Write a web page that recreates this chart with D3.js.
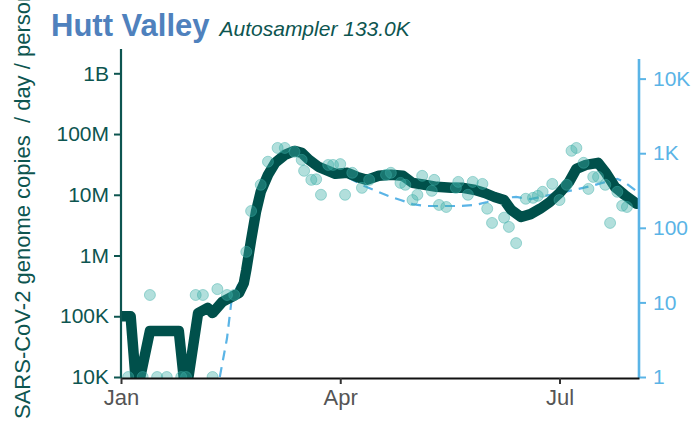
<!DOCTYPE html>
<html>
<head>
<meta charset="utf-8">
<script src="https://cdn.jsdelivr.net/npm/d3@7"></script>
<style>
  html, body { margin: 0; padding: 0; background: #ffffff; }
  svg { display: block; font-family: "Liberation Sans", Arial, Helvetica, sans-serif; }
</style>
</head>
<body>
<svg id="chart" width="698" height="423"></svg>
<script>
// Wastewater genome copies per day per person (left axis, log scale)
const sampleDates = [
  "2024-01-04","2024-01-10","2024-01-13","2024-01-16","2024-01-20","2024-01-26","2024-01-28",
  "2024-02-01","2024-02-04","2024-02-08","2024-02-10","2024-02-14","2024-02-17","2024-02-22",
  "2024-02-24","2024-02-28","2024-03-02","2024-03-06","2024-03-09","2024-03-13","2024-03-16",
  "2024-03-17","2024-03-20","2024-03-22","2024-03-24","2024-03-27","2024-03-29","2024-04-01",
  "2024-04-03","2024-04-06","2024-04-10","2024-04-13","2024-04-20","2024-04-22","2024-04-26",
  "2024-04-28","2024-05-01","2024-05-03","2024-05-05","2024-05-09","2024-05-10","2024-05-12",
  "2024-05-15","2024-05-19","2024-05-20","2024-05-24","2024-05-26","2024-05-30","2024-06-01",
  "2024-06-03","2024-06-08","2024-06-10","2024-06-13","2024-06-17","2024-06-20","2024-06-22",
  "2024-06-24","2024-06-28","2024-07-01","2024-07-04","2024-07-06","2024-07-08","2024-07-11",
  "2024-07-13","2024-07-15","2024-07-17","2024-07-20","2024-07-22","2024-07-25","2024-07-27",
  "2024-07-29"
];
const sampleValues = [
  1e4, 1e4, 2.24e5, 1e4, 1e4, 1e4, 1e4,
  2.24e5, 2.24e5, 1e4, 2.8e5, 2.24e5, 2.24e5, 1.15e6,
  5.4e6, 1.46e7, 3.5e7, 5.9e7, 5.9e7, 5.1e7, 3.76e7,
  2.48e7, 1.76e7, 1.8e7, 1.0e7, 3.1e7, 3.1e7, 3.2e7,
  1.0e7, 2.3e7, 1.3e7, 1.76e7, 2.13e7, 2.3e7, 1.57e7,
  1.46e7, 8.2e6, 1.0e7, 2.05e7, 1.16e7, 1.76e7, 6.8e6,
  6.3e6, 1.3e7, 1.63e7, 1.0e7, 1.63e7, 1.51e7, 5.9e6,
  3.44e6, 4.2e6, 2.96e6, 1.6e6, 8.6e6, 8.9e6, 9.6e6,
  1.12e7, 1.51e7, 8.2e6, 1.46e7, 5.3e7, 5.9e7, 3.36e7,
  1.25e7, 1.97e7, 1.97e7, 1.46e7, 3.44e6, 1.12e7, 6.6e6,
  6.3e6
];

// Smoothed trend of the samples
const trendDates = [
  "2024-01-01","2024-01-05","2024-01-07","2024-01-09","2024-01-13","2024-01-25","2024-01-27",
  "2024-01-29","2024-02-02","2024-02-06","2024-02-08","2024-02-12","2024-02-16","2024-02-19",
  "2024-02-21","2024-02-22","2024-02-24","2024-02-26","2024-02-28","2024-03-02","2024-03-05",
  "2024-03-09","2024-03-13","2024-03-16","2024-03-19","2024-03-23","2024-03-27","2024-03-30",
  "2024-04-04","2024-04-08","2024-04-12","2024-04-17","2024-04-22","2024-04-27","2024-05-01",
  "2024-05-06","2024-05-11","2024-05-17","2024-05-22","2024-05-27","2024-05-31","2024-06-04",
  "2024-06-08","2024-06-11","2024-06-15","2024-06-19","2024-06-23","2024-06-27","2024-07-01",
  "2024-07-05","2024-07-08","2024-07-12","2024-07-17","2024-07-20","2024-07-24","2024-07-28",
  "2024-08-02"
];
const trendValues = [
  1.0e5, 1.0e5, 1e4, 1e4, 5.7e4, 5.7e4, 1e4,
  1e4, 1.13e5, 1.37e5, 1.13e5, 1.72e5, 2.08e5, 2.42e5,
  3.54e5, 5.8e5, 1.8e6, 5.2e6, 1.12e7, 2.13e7, 3.36e7,
  4.54e7, 5.28e7, 4.9e7, 3.76e7, 2.88e7, 2.48e7, 2.21e7,
  2.3e7, 1.97e7, 1.76e7, 2.05e7, 2.13e7, 2.05e7, 1.57e7,
  1.46e7, 1.35e7, 1.30e7, 1.30e7, 1.2e7, 1.07e7, 9.2e6,
  8.2e6, 5.6e6, 4.3e6, 4.8e6, 5.9e6, 7.6e6, 1.07e7,
  1.63e7, 2.67e7, 3.1e7, 3.36e7, 2.38e7, 1.35e7, 9.96e6,
  7.1e6
];

// Reported cases (right axis, log scale)
const caseDates = [
  "2024-02-11","2024-02-14","2024-02-16","2024-02-19","2024-02-22","2024-02-24","2024-02-26",
  "2024-02-28","2024-03-02","2024-03-06","2024-03-11","2024-03-15","2024-03-20","2024-03-25",
  "2024-03-30","2024-04-03","2024-04-07","2024-04-11","2024-04-16","2024-04-21","2024-04-26",
  "2024-05-01","2024-05-06","2024-05-13","2024-05-20","2024-05-27","2024-06-01","2024-06-06",
  "2024-06-13","2024-06-19","2024-06-25","2024-07-01","2024-07-07","2024-07-14","2024-07-20",
  "2024-07-25","2024-07-28","2024-08-03"
];
const caseValues = [
  1, 3.3, 11.5, 18.2, 34.8, 77.6, 173,
  321, 560, 811, 1007, 1007, 811, 634,
  543, 495, 424, 363, 311, 267, 236,
  208, 196, 196, 196, 202, 222, 251,
  259, 243, 267, 293, 321, 363, 411,
  451, 411, 293
];

const leftTicks = [1e4, 1e5, 1e6, 1e7, 1e8, 1e9];
const leftTickLabels = ["10K", "100K", "1M", "10M", "100M", "1B"];
const rightTicks = [1, 10, 100, 1e3, 1e4];
const rightTickLabels = ["1", "10", "100", "1K", "10K"];
const monthTicks = ["2024-01-01", "2024-04-01", "2024-07-01"];

const parse = d3.timeParse("%Y-%m-%d");
const svg = d3.select("#chart");

const left = 121, right = 639, bottom = 377;
const x = d3.scaleTime().domain([parse("2024-01-01"), parse("2024-08-03")]).range([left, right]);
const yL = d3.scaleLog().domain([1e4, Math.pow(10, 9.40)]).range([bottom, 49]);
const yR = d3.scaleLog().domain([1, Math.pow(10, 4.263)]).range([bottom, 59]);

const samples = sampleDates.map((d, i) => ({ date: parse(d), value: sampleValues[i] }));
const trend = trendDates.map((d, i) => ({ date: parse(d), value: trendValues[i] }));
const cases = caseDates.map((d, i) => ({ date: parse(d), value: caseValues[i] }));

svg.append("defs").append("clipPath").attr("id", "plotClip")
  .append("rect").attr("x", left).attr("y", 30).attr("width", right - left).attr("height", 378 - 30);

const plot = svg.append("g").attr("clip-path", "url(#plotClip)");

// case line (dashed, right axis)
plot.append("path")
  .datum(cases)
  .attr("fill", "none")
  .attr("stroke", "#5ab4e6")
  .attr("stroke-width", 2.2)
  .attr("stroke-dasharray", "10,7")
  .attr("d", d3.line().x(d => x(d.date)).y(d => yR(d.value)));

// trend line
plot.append("path")
  .datum(trend)
  .attr("fill", "none")
  .attr("stroke", "#00504b")
  .attr("stroke-width", 10.5)
  .attr("stroke-linejoin", "round")
  .attr("stroke-linecap", "round")
  .attr("d", d3.line().x(d => x(d.date)).y(d => yL(d.value)));

// samples
plot.selectAll("circle.sample")
  .data(samples)
  .join("circle")
  .attr("class", "sample")
  .attr("cx", d => x(d.date))
  .attr("cy", d => yL(d.value))
  .attr("r", 5.5)
  .attr("fill", "#3eb0a8")
  .attr("fill-opacity", 0.4)
  .attr("stroke", "#3eb0a8")
  .attr("stroke-opacity", 0.45)
  .attr("stroke-width", 1);

// left axis
const gL = svg.append("g").attr("transform", `translate(${left},0)`)
  .call(d3.axisLeft(yL).tickValues(leftTicks)
    .tickFormat((d, i) => leftTickLabels[i]).tickSize(7).tickSizeOuter(0).tickPadding(5));
gL.select(".domain").attr("stroke", "#0d5550").attr("stroke-width", 2.2)
  .attr("d", `M0,49V378`);
gL.selectAll(".tick line").attr("stroke", "#0d5550").attr("stroke-width", 2);
gL.selectAll(".tick text").attr("fill", "#0d5550").style("font-size", "21px")
  .style("font-family", "'Liberation Sans', Arial, sans-serif");

// right axis
const gR = svg.append("g").attr("transform", `translate(${right},0)`)
  .call(d3.axisRight(yR).tickValues(rightTicks)
    .tickFormat((d, i) => rightTickLabels[i]).tickSize(7).tickSizeOuter(0).tickPadding(7));
gR.select(".domain").attr("stroke", "#5ab4e6").attr("stroke-width", 2.6)
  .attr("d", `M0,59V378`);
gR.selectAll(".tick line").attr("stroke", "#5ab4e6").attr("stroke-width", 2);
gR.selectAll(".tick text").attr("fill", "#5ab4e6").style("font-size", "21px")
  .style("font-family", "'Liberation Sans', Arial, sans-serif");

// bottom axis
const gB = svg.append("g").attr("transform", "translate(0,378)")
  .call(d3.axisBottom(x).tickValues(monthTicks.map(parse))
    .tickFormat(d3.timeFormat("%b")).tickSize(6).tickSizeOuter(0).tickPadding(5));
gB.select(".domain").attr("stroke", "#111111").attr("stroke-width", 2);
gB.selectAll(".tick line").attr("stroke", "#333333").attr("stroke-width", 2);
gB.selectAll(".tick text").attr("fill", "#555555").style("font-size", "22px")
  .style("font-family", "'Liberation Sans', Arial, sans-serif");

// y-axis title
svg.append("text")
  .attr("transform", "translate(30,419) rotate(-90)")
  .attr("text-anchor", "start")
  .attr("fill", "#0d5550")
  .style("font-size", "22px")
  .style("white-space", "pre")
  .text("SARS-CoV-2 genome copies  / day / person");

// title
const title = svg.append("text").attr("x", 51).attr("y", 36);
title.append("tspan")
  .attr("fill", "#4f81bd")
  .style("font-size", "31px")
  .style("font-weight", "bold")
  .text("Hutt Valley");
title.append("tspan")
  .attr("dx", 10)
  .attr("fill", "#0d5550")
  .style("font-size", "21px")
  .style("font-style", "italic")
  .text("Autosampler 133.0K");
</script>
</body>
</html>
